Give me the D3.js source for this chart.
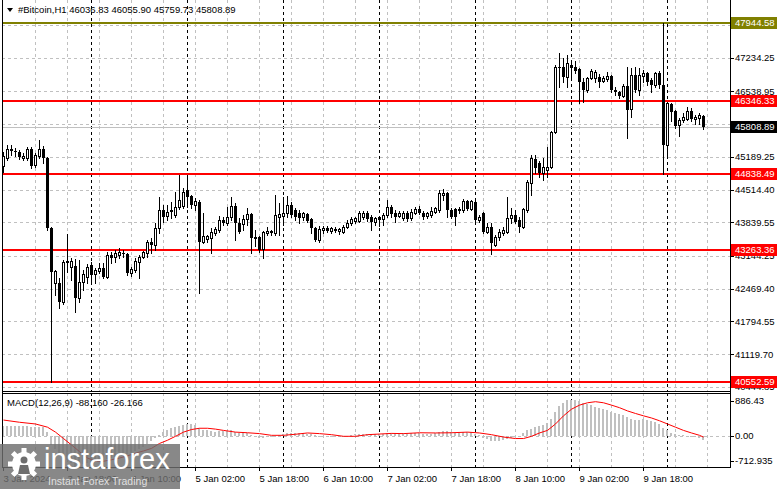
<!DOCTYPE html>
<html><head><meta charset="utf-8">
<script src="https://cdn.jsdelivr.net/npm/d3@7/dist/d3.min.js"></script>
<style>
html,body{margin:0;padding:0;background:#fff;}
svg{display:block;font-family:"Liberation Sans",Arial,sans-serif;}
</style></head><body>
<svg id="c" width="781" height="489"></svg>
<script>
const titleText = "#Bitcoin,H1  46036.83 46055.90 45759.73 45808.89";
const macdTitle = "MACD(12,26,9) -88.160 -26.166";

const openP = [45000,45165,45351,45309,45289,45165,45165,45351,45021,45206,
45351,45165,43722,42587,42587,42196,43041,42918,42938,42278,
42608,42711,42959,42773,42835,42897,42711,43165,43124,43165,
43206,43186,42794,42856,43021,43124,43206,43433,43371,43722,
44093,43969,44093,43990,44155,44175,44505,44381,44196,44258,
43433,43495,43515,43619,43680,43887,43825,43949,44175,43825,
43804,43908,44010,43536,43536,43289,43619,43660,43619,43949,
43969,44031,44196,44093,44031,43949,44010,43908,43722,43474,
43680,43722,43660,43701,43660,43639,43742,43825,43866,43866,
43949,44031,43949,43846,43949,43908,43990,44155,44031,43969,
43928,44031,43928,44031,44114,44031,43969,43990,44052,44093,
44402,44443,44093,44114,44093,44093,44278,44114,44258,43887,
44031,43639,43742,43371,43536,43619,43639,43928,43990,43887,
43742,44093,44650,45144,45062,44856,44918,44980,45701,47041,
47041,46835,47083,47041,47000,46732,46567,46814,46814,46835,
46753,46794,46856,46567,46526,46443,46650,46175,46877,46567,
46856,46918,46773,46670,46918,46670,45433,46278,46134,45846,
45949,45969,46134,45969,45990,46036.83];
const highP = [45289,45433,45433,45371,45330,45268,45392,45392,45268,45536,
45413,45186,43740,42856,42690,43062,43598,43103,43083,43062,
42856,42980,43021,42897,43000,43000,43227,43227,43268,43309,
43268,43206,42918,43103,43165,43247,43474,43515,43825,44361,
44196,44196,44258,44464,44814,44546,44814,44402,44340,44299,
44031,43577,43722,43742,43969,43949,44155,44361,44237,43928,
43990,44134,44031,43680,43557,43660,43742,43680,44402,44237,
44361,44381,44258,44134,44093,44052,44031,43928,43742,43763,
43763,43763,43742,43742,43722,43784,43887,43949,43949,44072,
44072,44072,43990,43949,43969,44031,44299,44196,44093,44072,
44072,44072,44114,44155,44175,44072,44052,44155,44155,44505,
44526,44464,44134,44134,44155,44320,44299,44299,44299,43990,
44052,43825,43825,43577,43701,43742,44361,44134,44093,43949,
44134,44711,45227,45227,45103,45165,45392,45722,47083,47330,
47227,47289,47186,47165,47021,46814,46835,47000,46980,46897,
46856,46938,46877,46629,46547,46691,47041,47021,47041,47021,
46980,46938,46814,46938,46959,47944.58,46320,46299,46155,45990,
46093,46217,46196,46052,46093,46055.90];
const lowP = [44877,45124,45227,45206,45144,45124,45124,44959,44980,45165,
45062,43680,40552.59,42340,42072,42155,42815,42649,41990,42196,
42443,42587,42567,42587,42794,42690,42690,43000,43021,43103,
43124,42752,42732,42815,42690,43103,43124,43206,43268,43619,
43846,43887,43928,43949,44114,44134,44155,44134,44093,42381,
43412,43433,43206,43577,43639,43784,43784,43887,43474,43619,
43680,43784,43206,43351,43227,43103,43577,43577,43577,43577,
43784,43949,43949,43887,43825,43887,43846,43619,43453,43433,
43619,43639,43619,43639,43598,43619,43722,43784,43825,43846,
43908,43866,43680,43784,43763,43784,43949,43949,43846,43949,
43887,43866,43887,44010,44010,43908,43928,43949,44031,44052,
44299,43949,43928,43784,44031,44052,44093,44093,43846,43846,
43619,43619,43186,43351,43474,43577,43619,43825,43825,43639,
43722,44052,44402,44856,44773,44711,44773,44959,45680,46629,
46732,46629,46835,46918,46299,46320,46526,46794,46732,46629,
46732,46753,46526,46464,46402,46423,45577,46010,46526,46464,
46732,46670,46526,46629,46608,44845,45227,45928,45784,45619,
45908,45949,45928,45866,45866,45759.73];
const closeP = [45206,45351,45309,45289,45186,45206,45351,45000,45227,45351,
45165,43722,42815,42835,42196,43021,43000,43041,42278,42608,
42773,42918,42752,42856,42897,42711,43165,43103,43206,43227,
43186,42794,42876,43041,43124,43227,43433,43371,43722,44093,
43949,44052,44052,44155,44299,44464,44361,44196,44278,43433,
43557,43557,43639,43701,43887,43825,43949,44175,43825,43639,
43908,44010,43515,43495,43268,43639,43660,43619,43990,44010,
44031,44196,43990,43949,43928,44031,43866,43722,43474,43701,
43722,43660,43722,43660,43701,43742,43825,43908,43928,44031,
44031,43908,43846,43928,43887,43990,44155,44010,43949,44031,
44031,43908,44052,44114,44031,43949,44031,44072,44134,44443,
44443,44093,43949,43949,44114,44278,44114,44278,43887,43949,
43639,43742,43412,43536,43639,43680,43928,43990,43846,43742,
44114,44670,45165,44959,44856,44980,44980,45701,47041,47021,
46835,47124,47021,46959,46732,46567,46814,46959,46938,46732,
46814,46856,46567,46526,46443,46650,46155,46877,46567,46877,
46918,46732,46670,46918,46670,45433,46299,46113,45825,45949,
46010,46134,45969,46010,46052,45808.89];

const macdMain = [240,238,235,232,228,225,222,218,215,210,205,
100,-200,-300,-400,-480,-560,-640,-713,-690,-660,
-640,-620,-600,-580,-560,-530,-505,-480,-460,-440,
-430,-400,-360,-310,-250,-185,-115,-45,
30,100,145,180,210,240,265,280,270,255,
180,150,130,110,100,110,110,115,130,100,80,70,
65,20,-10,-40,-40,-35,-30,10,30,45,
70,75,70,65,65,55,40,15,5,0,
-5,-8,-10,-10,-5,5,20,35,45,50,50,45,45,
55,55,70,60,55,55,60,55,60,70,65,55,55,55,60,
100,120,110,90,75,70,90,95,95,50,
20,-40,-70,-110,-120,-115,-100,-70,-40,-20,10,60,
130,160,205,235,265,305,395,570,700,775,830,850,845,
815,770,740,715,685,660,630,600,570,545,510,480,435,
395,380,380,395,380,355,320,280,180,130,75,
40,25,15,0,-15,-30,-45,-88.16];

const signalBars = [0,4,8,11,13,15,17,19,21,23,25,27,29,31,33,35,37,39,41,43,45,47,49,51,53,55,58,61,64,67,70,73,76,79,82,85,88,91,94,97,100,104,108,112,116,119,122,125,128,130,132,134,136,138,140,142,144,146,148,150,152,154,156,158,160,162,164,166,168,170,172,174,175];
const signalVals = [372,320,280,205,90,-60,-210,-365,-515,-590,-590,-555,-515,-465,-400,-350,-290,-175,-100,-8,90,150,180,180,160,130,90,75,55,15,15,40,70,55,30,-8,-8,30,45,60,55,75,70,75,90,70,30,-25,-60,-60,-8,70,130,280,470,625,720,775,800,775,720,660,585,525,470,420,355,280,205,130,70,15,-26.166];

const redLevels = [46346.33, 44838.49, 43263.36, 40552.59];
const oliveLevel = 47944.58;
const bidPrice = 45808.89;
const priceTicks = [47909.10, 47234.25, 46538.95, 45864.10, 45189.25, 44514.40, 43839.55, 43144.25, 42469.40, 41794.55, 41119.70, 40444.85];
const timeLabels = ["3 Jan 2024","3 Jan 18:00","4 Jan 10:00","5 Jan 02:00","5 Jan 18:00","6 Jan 10:00","7 Jan 02:00","7 Jan 18:00","8 Jan 10:00","9 Jan 02:00","9 Jan 18:00"];
const timeLabelBars = [0,16,32,48,64,80,96,112,128,144,160];
const daySepBars = [22,46,70,94,118,142,166];
const macdTicks = [886.43, 0, -712.935];
const macdTickLabels = ["886.43","0.00","-712.935"];

const svg = d3.select("#c");
const XL = 2, XR = 730, MT = 0, MB = 391, ST = 393, SB = 467;
const n = closeP.length;
const x = d3.scaleLinear().domain([0, 175]).range([3.5, 703.5]);
const y = d3.scaleLinear().domain([40552.59, 46346.33]).range([381.7, 100.7]);
const ym = d3.scaleLinear().domain([-712.935, 886.43]).range([466.5, 398]);
const F = "Liberation Sans, Arial, sans-serif";

const defs = svg.append("defs");
defs.append("clipPath").attr("id","mc").append("rect").attr("x",XL+1).attr("y",MT).attr("width",XR-XL-1).attr("height",MB-MT);
defs.append("clipPath").attr("id","sc").append("rect").attr("x",XL+1).attr("y",ST+1).attr("width",XR-XL-1).attr("height",SB-ST-1);

const grid = svg.append("g").attr("shape-rendering","crispEdges");
// vertical grid every 8 bars
const vg = d3.range(8, 177, 8);
[[MT,MB],[ST,SB]].forEach(([a,b]) => {
  grid.selectAll(null).data(vg).enter().append("line")
    .attr("x1",d=>x(d)-0.5).attr("x2",d=>x(d)-0.5).attr("y1",a).attr("y2",b)
    .attr("stroke","#c0c0c0").attr("stroke-dasharray","3,3");
});
// horizontal price grid
grid.selectAll(null).data(priceTicks).enter().append("line")
  .attr("x1",XL).attr("x2",XR).attr("y1",d=>Math.round(y(d))+0.5).attr("y2",d=>Math.round(y(d))+0.5)
  .attr("stroke","#c0c0c0").attr("stroke-dasharray","3,3");
// macd zero line
grid.append("line").attr("x1",XL).attr("x2",XR).attr("y1",Math.round(ym(0))+0.5).attr("y2",Math.round(ym(0))+0.5)
  .attr("stroke","#c0c0c0").attr("stroke-dasharray","3,3");
// day separators
[[MT,MB],[ST,SB]].forEach(([a,b]) => {
  grid.selectAll(null).data(daySepBars).enter().append("line")
    .attr("x1",d=>x(d)-0.5).attr("x2",d=>x(d)-0.5).attr("y1",a).attr("y2",b)
    .attr("stroke","#000").attr("stroke-dasharray","3,3");
});

// horizontal levels
const lv = svg.append("g").attr("shape-rendering","crispEdges");
lv.append("line").attr("x1",XL).attr("x2",XR).attr("y1",Math.round(y(bidPrice))+0.5).attr("y2",Math.round(y(bidPrice))+0.5)
  .attr("stroke","#c0c0c0");
lv.selectAll(null).data(redLevels).enter().append("line")
  .attr("x1",XL).attr("x2",XR).attr("y1",d=>Math.round(y(d))).attr("y2",d=>Math.round(y(d)))
  .attr("stroke","#ff0000").attr("stroke-width",2);
lv.append("line").attr("x1",XL).attr("x2",XR).attr("y1",Math.round(y(oliveLevel))).attr("y2",Math.round(y(oliveLevel)))
  .attr("stroke","#808000").attr("stroke-width",2);

// candles
const cg = svg.append("g").attr("clip-path","url(#mc)").attr("shape-rendering","crispEdges");
d3.range(n).forEach(i => {
  const cx = x(i);
  const o = openP[i], c = closeP[i];
  const yo = Math.round(y(o)), yc = Math.round(y(c));
  const yh = Math.round(y(highP[i])), yl = Math.round(y(lowP[i]));
  cg.append("line").attr("x1",cx).attr("x2",cx).attr("y1",yh).attr("y2",yl+1).attr("stroke","#000");
  if (c >= o) {
    cg.append("rect").attr("x",cx-1).attr("y",yc+0.5).attr("width",2).attr("height",Math.max(yo-yc,0))
      .attr("fill","#fff").attr("stroke","#000");
  } else {
    cg.append("rect").attr("x",cx-1.5).attr("y",yo).attr("width",3).attr("height",Math.max(yc-yo,1)).attr("fill","#000");
  }
});

// MACD histogram
const sg = svg.append("g").attr("clip-path","url(#sc)");
const z0 = Math.round(ym(0));
sg.selectAll(null).data(macdMain).enter().append("rect").attr("shape-rendering","crispEdges")
  .attr("x",(d,i)=>x(i)-1.5).attr("width",2)
  .attr("y",d=>Math.round(Math.min(ym(d),ym(0))))
  .attr("height",d=>Math.max(1,Math.round(Math.abs(ym(d)-ym(0)))))
  .attr("fill","#c0c0c0");
const sig = signalBars.map((b,k)=>[x(b), ym(signalVals[k])]);
sg.append("path").attr("d", d3.line()(sig)).attr("fill","none").attr("stroke","#ff0000").attr("stroke-width",1);

// frames
const fr = svg.append("g").attr("shape-rendering","crispEdges").attr("stroke","#000");
fr.append("line").attr("x1",XL+0.5).attr("x2",XL+0.5).attr("y1",0).attr("y2",SB+1);
fr.append("line").attr("x1",XR+0.5).attr("x2",XR+0.5).attr("y1",0).attr("y2",SB+1);
fr.append("line").attr("x1",XL).attr("x2",XR+1).attr("y1",MB+0.5).attr("y2",MB+0.5);
fr.append("line").attr("x1",XL).attr("x2",XR+1).attr("y1",ST+0.5).attr("y2",ST+0.5);
fr.append("line").attr("x1",XL).attr("x2",XR+1).attr("y1",SB+0.5).attr("y2",SB+0.5);

// price axis labels
const ax = svg.append("g").style("font-family",F).style("font-size","9.5px");
ax.selectAll(null).data(priceTicks).enter().append("line").attr("shape-rendering","crispEdges")
  .attr("x1",XR).attr("x2",XR+4).attr("y1",d=>Math.round(y(d))+0.5).attr("y2",d=>Math.round(y(d))+0.5).attr("stroke","#000");
ax.selectAll(null).data(priceTicks).enter().append("text")
  .attr("x",735).attr("y",d=>y(d)).attr("dy","0.35em").attr("fill","#000").text(d=>d.toFixed(2));
// level boxes
const boxes = [{v:oliveLevel,c:"#808000"},{v:bidPrice,c:"#000"}].concat(redLevels.map(v=>({v:v,c:"#ff0000"})));
boxes.forEach(b => {
  const yy = Math.round(y(b.v));
  ax.append("rect").attr("x",731).attr("y",yy-6).attr("width",46).attr("height",12).attr("fill",b.c);
  ax.append("text").attr("x",735).attr("y",yy).attr("dy","0.35em").attr("fill","#fff").text(b.v.toFixed(2));
});
// macd axis
const moff = [3,0,-5.5];
macdTicks.forEach((v,k) => {
  ax.append("line").attr("shape-rendering","crispEdges").attr("x1",XR).attr("x2",XR+4)
    .attr("y1",Math.round(ym(v)+moff[k])+0.5).attr("y2",Math.round(ym(v)+moff[k])+0.5).attr("stroke","#000");
  ax.append("text").attr("x",735).attr("y",ym(v)+moff[k]).attr("dy","0.35em").text(macdTickLabels[k]);
});
// time labels
timeLabelBars.forEach((b,k) => {
  ax.append("line").attr("shape-rendering","crispEdges").attr("x1",x(b)-0.5).attr("x2",x(b)-0.5).attr("y1",SB).attr("y2",SB+4).attr("stroke","#000");
  ax.append("text").attr("x",x(b)).attr("y",482).text(timeLabels[k]);
});
// titles
ax.append("path").attr("d","M7,8 L13,8 L10,12 Z").attr("fill","#000");
ax.append("text").attr("x",18).attr("y",13).text(titleText);
ax.append("text").attr("x",7).attr("y",406).text(macdTitle);

// watermark logo
const lg = svg.append("g");
lg.append("rect").attr("x",0).attr("y",444).attr("width",180).attr("height",45).attr("fill","rgb(110,110,110)").attr("opacity",0.82);
const gx = 24, gy = 464;
d3.range(8).forEach(k => {
  lg.append("rect").attr("x",gx-2.5).attr("y",gy-16).attr("width",5).attr("height",6).attr("fill","#fff")
    .attr("transform",`rotate(${k*45},${gx},${gy})`);
});
lg.append("circle").attr("cx",gx).attr("cy",gy).attr("r",12).attr("fill","#fff");
lg.append("circle").attr("cx",gx).attr("cy",gy-4).attr("r",3.5).attr("fill","rgb(110,110,110)");
lg.append("path").attr("d",`M${gx-6},${gy+10} L${gx-4},${gy+1} L${gx+4},${gy+1} L${gx+6},${gy+10} Z`).attr("fill","rgb(110,110,110)");
lg.append("text").attr("x",44).attr("y",469).attr("fill","#fff").style("font-family",F).style("font-size","29px").text("instaforex");
lg.append("text").attr("x",48).attr("y",485).attr("fill","#e0e0e0").style("font-family",F).style("font-size","10.5px").text("Instant Forex Trading");
</script>
</body></html>
